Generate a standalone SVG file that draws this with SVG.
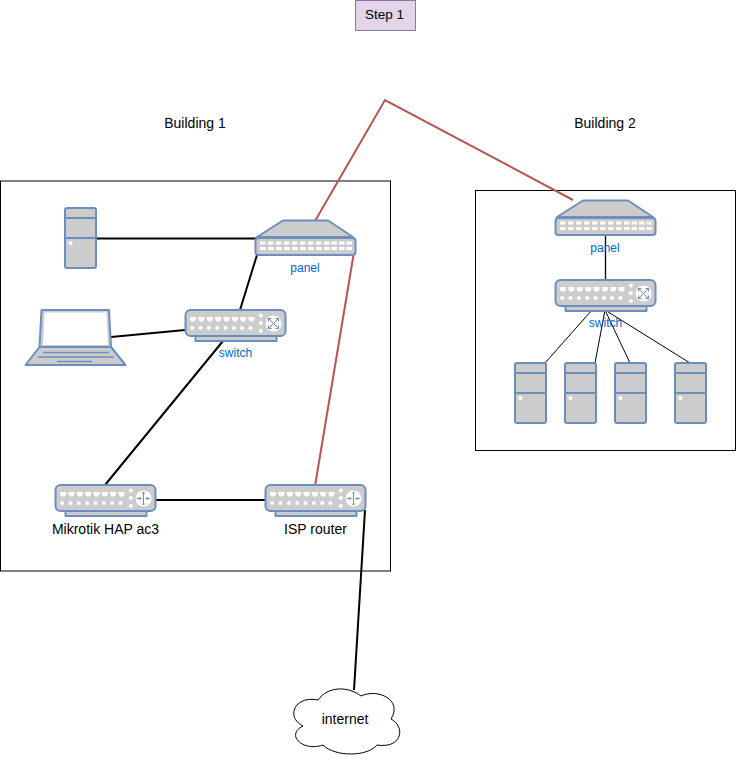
<svg xmlns="http://www.w3.org/2000/svg" xmlns:xlink="http://www.w3.org/1999/xlink" width="736" height="761" viewBox="0 0 736 761">
<style>
text{font-family:"Liberation Sans",Arial,sans-serif;text-anchor:middle}
.t{font-size:14px;fill:#000}
.s{font-size:13.500px;fill:#000}
.b{font-size:12px;fill:#0066cc}
.f{fill:#ccc;stroke:#6c8ebf;stroke-width:2;stroke-linejoin:round}
.w{fill:#fff;stroke:none}
.ln{fill:none;stroke:#6c8ebf;stroke-width:2}
.k{fill:none;stroke:#000;stroke-width:2}
.k1{fill:none;stroke:#000;stroke-width:1}
.r{fill:none;stroke:#b85450;stroke-width:2}
.box{fill:#fff;stroke:#000;stroke-width:1}
</style>
<defs>
<g id="ports">
<path class="w" d="M4.500 7h6v2.500l-1.500 2h-3l-1.500-2zM12.900 7h6v2.500l-1.500 2h-3l-1.500-2zM21.300 7h6v2.500l-1.500 2h-3l-1.500-2zM29.700 7h6v2.500l-1.500 2h-3l-1.500-2zM38 7h6v2.500l-1.500 2h-3l-1.500-2zM46.400 7h6v2.500l-1.500 2h-3l-1.500-2zM54.700 7h6v2.500l-1.500 2h-3l-1.500-2zM63 7h6v2.500l-1.500 2h-3l-1.500-2z"/>
<g class="w"><circle cx="6.700" cy="18" r="2"/><circle cx="15" cy="18" r="2"/><circle cx="23.400" cy="18" r="2"/><circle cx="31.700" cy="18" r="2"/><circle cx="40" cy="18" r="2"/><circle cx="48.400" cy="18" r="2"/><circle cx="56.700" cy="18" r="2"/><circle cx="65" cy="18" r="2"/><circle cx="75.300" cy="5.500" r="2"/><circle cx="75.300" cy="13" r="2"/><circle cx="75.300" cy="21" r="2"/></g>
</g>
<g id="sw">
<rect class="f" x="10" y="26" width="81" height="5"/>
<rect class="f" x="0" y="0" width="100" height="26" rx="5"/>
<use href="#ports"/>
<circle class="w" cx="88" cy="13.500" r="8"/>
<path d="M83 8.500l10 10M93 8.500l-10 10M83 8.500h3M83 8.500v3M93 8.500h-3M93 8.500v3M83 18.500h3M83 18.500v-3M93 18.500h-3M93 18.500v-3" fill="none" stroke="#6c8ebf" stroke-width="1"/>
</g>
<g id="rt">
<rect class="f" x="10" y="26" width="81" height="5"/>
<rect class="f" x="0" y="0" width="100" height="26" rx="5"/>
<use href="#ports"/>
<circle class="w" cx="88" cy="13.500" r="8"/>
<path d="M88 7v13M81.500 13.500h4M90.500 13.500h4M86.500 8.500l1.500-1.500 1.500 1.500M86.500 18.500l1.500 1.500 1.500-1.500M84 12l1.500 1.500-1.500 1.500M92 12l-1.500 1.500 1.500 1.500" fill="none" stroke="#6c8ebf" stroke-width="1"/>
</g>
<g id="pn">
<path class="f" d="M2 17L28 0.500H73L98 17z"/>
<rect class="f" x="0.500" y="18" width="100" height="17" rx="3"/>
<g class="w"><rect x="5" y="21.500" width="5.500" height="3"/><rect x="13" y="21.500" width="5.500" height="3"/><rect x="21" y="21.500" width="5.500" height="3"/><rect x="29" y="21.500" width="5.500" height="3"/><rect x="37" y="21.500" width="5.500" height="3"/><rect x="45" y="21.500" width="5.500" height="3"/><rect x="53" y="21.500" width="5.500" height="3"/><rect x="61" y="21.500" width="5.500" height="3"/><rect x="69" y="21.500" width="5.500" height="3"/><rect x="76.500" y="21.500" width="5.500" height="3"/><rect x="84" y="21.500" width="5.500" height="3"/><rect x="91.500" y="21.500" width="5.500" height="3"/><rect x="5" y="27" width="5.500" height="3"/><rect x="13" y="27" width="5.500" height="3"/><rect x="21" y="27" width="5.500" height="3"/><rect x="29" y="27" width="5.500" height="3"/><rect x="37" y="27" width="5.500" height="3"/><rect x="45" y="27" width="5.500" height="3"/><rect x="53" y="27" width="5.500" height="3"/><rect x="61" y="27" width="5.500" height="3"/><rect x="69" y="27" width="5.500" height="3"/><rect x="76.500" y="27" width="5.500" height="3"/><rect x="84" y="27" width="5.500" height="3"/><rect x="91.500" y="27" width="5.500" height="3"/></g>
</g>
<g id="tw">
<rect class="f" x="0" y="0" width="31" height="60" rx="2"/>
<path class="ln" d="M0 10H31M0 30H31"/>
<circle class="w" cx="5.500" cy="35" r="2"/>
</g>
</defs>
<g id="building1"><rect class="box" x="0.500" y="181" width="390" height="390"/></g>
<g id="building2"><rect class="box" x="475.500" y="190.500" width="260" height="260"/></g>
<g id="connectors">
<path class="k" d="M96 238.500H257M257 255L240 310M111 337L185 330M223 341L105 485M155 500H265M365 510L354 690"/>
<path class="r" d="M315 221L385 100L573 200M353.500 255L315 486"/>
<path class="k1" style="stroke-width:1.300" d="M605.500 235V280"/>
<path class="k1" d="M592 310L545 363M605 310L595 363M605 310L630 363M605 310L690 363"/>
</g>
<g id="step1"><rect x="355.500" y="0.500" width="60" height="30" fill="#e1d5e7" stroke="#9673a6"/><text class="s" x="384.500" y="19">Step 1</text></g>
<text class="t" x="195" y="128">Building 1</text>
<text class="t" x="605" y="128">Building 2</text>
<g id="tower1"><use href="#tw" x="65" y="208"/></g>
<g id="laptop">
<path class="f" d="M41.500 310H109L111 347H39.500z"/>
<path d="M44.500 312.500H106.500L108 345H43z" fill="#fff"/>
<path class="f" d="M39.500 347H111L125.500 365H25.500z"/>
<path class="ln" style="stroke-width:1.500" d="M43 352.500H109M38 357H114M57 361.500H92"/>
</g>
<g id="panel1"><use href="#pn" x="255" y="220"/><text class="b" x="305" y="272">panel</text></g>
<g id="switch1"><use href="#sw" x="185.500" y="310"/><text class="b" x="235.500" y="357">switch</text></g>
<g id="mikrotik"><use href="#rt" x="55.500" y="485"/><text class="t" x="105.500" y="534">Mikrotik HAP ac3</text></g>
<g id="isp"><use href="#rt" x="265.500" y="485"/><text class="t" x="315.500" y="534">ISP router</text></g>
<g id="panel2"><use href="#pn" x="555" y="200"/><text class="b" x="605" y="252">panel</text></g>
<g id="switch2"><use href="#sw" x="555.500" y="280"/><text class="b" x="605.500" y="327">switch</text></g>
<g id="tower2"><use href="#tw" x="515" y="363"/></g>
<g id="tower3"><use href="#tw" x="565" y="363"/></g>
<g id="tower4"><use href="#tw" x="615" y="363"/></g>
<g id="tower5"><use href="#tw" x="675" y="363"/></g>
<g id="internet">
<path d="M318 700C328 686 348 686 361 696C378 688 403 700 391 719C406 727 402 749 377 745C367 757 335 757 323 745C303 752 285 735 303 726C285 717 295 695 318 700z" fill="#fff" stroke="#000" stroke-width="1"/>
<text class="t" x="345" y="724">internet</text>
</g>
</svg>
